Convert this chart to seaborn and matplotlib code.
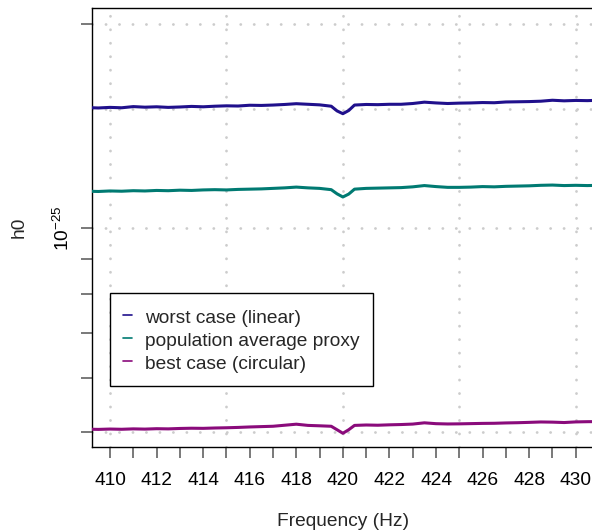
import numpy as np
import pandas as pd
import matplotlib
matplotlib.use("Agg")
import matplotlib.pyplot as plt
import matplotlib.ticker as mticker
import seaborn as sns

freq = [409.0, 409.5, 410.0, 410.5, 411.0, 411.5, 412.0, 412.5, 413.0, 413.5,
        414.0, 414.5, 415.0, 415.5, 416.0, 416.5, 417.0, 417.5, 418.0, 418.5,
        419.0, 419.5, 419.75, 420.0, 420.25, 420.5, 421.0, 421.5, 422.0, 422.5,
        423.0, 423.5, 424.0, 424.5, 425.0, 425.5, 426.0, 426.5, 427.0, 427.5,
        428.0, 428.5, 429.0, 429.5, 430.0, 430.5, 431.0]

# h0 values in units of 1e-25
worst_case = [1.507, 1.505, 1.508, 1.506, 1.512, 1.509, 1.511, 1.508, 1.510, 1.513,
              1.511, 1.514, 1.516, 1.515, 1.519, 1.518, 1.520, 1.523, 1.527, 1.524,
              1.521, 1.514, 1.490, 1.476, 1.492, 1.520, 1.523, 1.522, 1.524, 1.524,
              1.528, 1.535, 1.531, 1.528, 1.530, 1.531, 1.533, 1.532, 1.536, 1.537,
              1.538, 1.540, 1.545, 1.542, 1.544, 1.543, 1.545]
pop_average = [1.134, 1.133, 1.135, 1.134, 1.136, 1.135, 1.137, 1.136, 1.138, 1.137,
               1.139, 1.140, 1.139, 1.141, 1.142, 1.143, 1.145, 1.147, 1.150, 1.147,
               1.145, 1.140, 1.124, 1.112, 1.123, 1.142, 1.145, 1.146, 1.147, 1.148,
               1.151, 1.156, 1.152, 1.149, 1.149, 1.150, 1.152, 1.151, 1.153, 1.154,
               1.155, 1.157, 1.158, 1.156, 1.157, 1.156, 1.157]
best_case = [0.5050, 0.5046, 0.5052, 0.5048, 0.5055, 0.5051, 0.5058, 0.5055, 0.5062, 0.5066,
             0.5064, 0.5070, 0.5074, 0.5080, 0.5088, 0.5094, 0.5100, 0.5118, 0.5136, 0.5115,
             0.5108, 0.5100, 0.5040, 0.4980, 0.5040, 0.5115, 0.5122, 0.5118, 0.5125, 0.5130,
             0.5138, 0.5160, 0.5145, 0.5140, 0.5142, 0.5146, 0.5150, 0.5152, 0.5158, 0.5162,
             0.5168, 0.5175, 0.5172, 0.5165, 0.5176, 0.5180, 0.5182]

series_names = ["worst case (linear)", "population average proxy", "best case (circular)"]
series_colors = ["#20108c", "#007a72", "#8a0b7b"]

y_ticks = [5e-26, 6e-26, 7e-26, 8e-26, 9e-26, 1e-25, 2e-25]
y_tick_labels = ["", "", "", "", "", "$10^{-25}$", ""]
grid_x = [410, 415, 420, 425, 430]
grid_y = [5e-26, 1e-25, 1.5e-25, 2e-25]

##################################################################
#
# build long-form table
#
frames = []
for name, vals in zip(series_names, [worst_case, pop_average, best_case]):
    frames.append(pd.DataFrame({"freq": freq,
                                "h0": np.array(vals) * 1e-25,
                                "series": name}))
df = pd.concat(frames, ignore_index=True)

sns.set_theme(style="white")
plt.rcParams["font.family"] = ["Liberation Sans", "DejaVu Sans"]
plt.rcParams["mathtext.fontset"] = "custom"
plt.rcParams["mathtext.rm"] = "Liberation Sans"
plt.rcParams["mathtext.it"] = "Liberation Sans:italic"

FS = 13.8
W, H = 592, 531
fig = plt.figure(figsize=(W / 100, H / 100), dpi=100)
left, right, top, bottom = 91.7, 594.6, 8.3, 447.3
ax = fig.add_axes([left / W, 1 - bottom / H, (right - left) / W, (bottom - top) / H])

sns.lineplot(data=df, x="freq", y="h0", hue="series", hue_order=series_names,
             palette=dict(zip(series_names, series_colors)), linewidth=2.2,
             estimator=None, sort=False, legend=False, ax=ax, zorder=3)
data_lines = list(ax.lines[:3])

ax.set_yscale("log")
ax.set_xlim(409.214, 430.81)
ax.set_ylim(4.748e-26, 2.112e-25)

# dotted grid
for gx in grid_x:
    ax.axvline(gx, color="#cccccc", lw=2.0, linestyle=(0, (0.05, 4.8)),
               dash_capstyle="round", zorder=1)
for gy in grid_y:
    ax.axhline(gy, color="#cccccc", lw=2.0, linestyle=(0, (0.05, 4.8)),
               dash_capstyle="round", zorder=1)

# ticks
ax.xaxis.set_major_locator(mticker.MultipleLocator(2))
ax.xaxis.set_minor_locator(mticker.MultipleLocator(1))
ax.xaxis.set_major_formatter(mticker.FormatStrFormatter("%d"))
ax.yaxis.set_major_locator(mticker.FixedLocator(y_ticks))
ax.yaxis.set_major_formatter(mticker.FixedFormatter(y_tick_labels))
ax.yaxis.set_minor_locator(mticker.NullLocator())

ax.tick_params(axis="both", which="both", direction="out", length=8, width=1.1,
               color="#555555", labelsize=FS, labelcolor="black")
ax.tick_params(axis="x", which="both", bottom=True, pad=10)
ax.tick_params(axis="y", which="major", left=True, pad=5.5, labelrotation=90)
for lab in ax.get_yticklabels():
    lab.set_va("center")

for side in ["top", "left", "bottom"]:
    ax.spines[side].set_color("black")
    ax.spines[side].set_linewidth(1.0)
ax.spines["right"].set_visible(False)

ax.set_xlabel("Frequency (Hz)", fontsize=FS, labelpad=17)
ax.set_ylabel("h0", fontsize=FS, labelpad=18)

leg = ax.legend(data_lines, series_names, loc="upper left",
                bbox_to_anchor=(110 / W, 1 - 293.3 / H), bbox_transform=fig.transFigure,
                borderaxespad=0, fontsize=FS, handlelength=0.47, handletextpad=0.65,
                handleheight=1.2, borderpad=0.7, labelspacing=0.14, frameon=True,
                fancybox=False, framealpha=1, edgecolor="black")
leg.get_frame().set_linewidth(1.0)
for h in leg.get_lines():
    h.set_linewidth(1.2)

fig.savefig("out.png", dpi=100)
